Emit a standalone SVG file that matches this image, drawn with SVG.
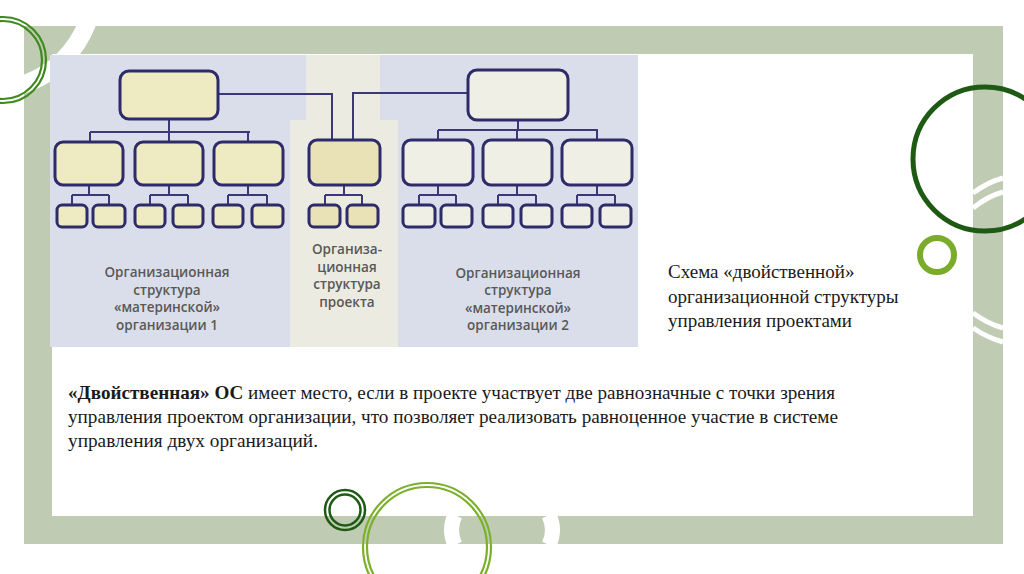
<svg xmlns="http://www.w3.org/2000/svg" width="1024" height="574" viewBox="0 0 1024 574">
<defs>
<style>
.bx{stroke:#2e2b6b;stroke-width:3}
.y{fill:#eeebc3}
.p{fill:#e8e2b6}
.w{fill:#f0efe6}
.cn{fill:none;stroke:#3a3878;stroke-width:2}
.pt{font-family:"Open Sans","DejaVu Sans",sans-serif;font-size:13.5px;font-weight:600;fill:#585858;text-anchor:middle}
.cap{font-family:"Liberation Serif",serif;font-size:19px;fill:#1a1a1a}
.body{font-family:"Liberation Serif",serif;font-size:19px;fill:#1a1a1a}
.wa{fill:none;stroke:#ffffff}
</style>
</defs>
<rect width="1024" height="574" fill="#ffffff"/>
<g id="frame">
<rect x="24" y="26" width="979" height="518" fill="#c0cbb4"/>
<rect x="52" y="54" width="921" height="462" fill="#ffffff"/>
<circle cx="-10" cy="-14" r="104" class="wa" stroke-width="18"/>
<path class="wa" stroke-width="5" d="M973,193 Q988,182 1003,178"/>
<path class="wa" stroke-width="5" d="M973,208 Q988,196 1003,192"/>
<path class="wa" stroke-width="5" d="M973,313 Q988,324 1003,328"/>
<path class="wa" stroke-width="5" d="M973,328 Q988,338 1003,342"/>
<path class="wa" stroke-width="15" d="M455,515 Q448,530 455,545"/>
<path class="wa" stroke-width="15" d="M549,515 Q556,530 549,545"/>
</g>
<g id="picture">
<rect x="50" y="55" width="588" height="292" fill="#dadeea"/>
<path d="M306,55 L380,55 L380,120 L398,120 L398,347 L290,347 L290,120 L306,120 Z" fill="#ecebe2"/>
</g>
<g id="connectors">
<path class="cn" d="M169,118 V132 M90,132 H250 M90,132 V142 M169,132 V142 M248,132 V142"/>
<path class="cn" d="M219,94 H332 V140 M468,93 H353 V140"/>
<path class="cn" d="M518,120 V130 M438,130 H598 M438,130 V140 M517,130 V140 M597,130 V140"/>
<path class="cn" d="M89,185 V195 M72,195 H109 M72,195 V205 M109,195 V205"/>
<path class="cn" d="M169,185 V195 M150,195 H188 M150,195 V205 M188,195 V205"/>
<path class="cn" d="M248,185 V195 M228,195 H267 M228,195 V205 M267,195 V205"/>
<path class="cn" d="M344,185 V195 M325,195 H362 M325,195 V205 M362,195 V205"/>
<path class="cn" d="M438,185 V195 M419,195 H456 M419,195 V205 M456,195 V205"/>
<path class="cn" d="M517,185 V195 M498,195 H536 M498,195 V205 M536,195 V205"/>
<path class="cn" d="M597,185 V195 M577,195 H615 M577,195 V205 M615,195 V205"/>
</g>
<g id="org1">
<rect class="bx y" x="120" y="71" width="98" height="48" rx="9"/>
<rect class="bx y" x="55" y="142" width="68" height="43" rx="8"/>
<rect class="bx y" x="135" y="142" width="68" height="43" rx="8"/>
<rect class="bx y" x="214" y="142" width="69" height="43" rx="8"/>
<rect class="bx y" x="57" y="205" width="30" height="22" rx="5"/>
<rect class="bx y" x="93" y="205" width="32" height="22" rx="5"/>
<rect class="bx y" x="135" y="205" width="30" height="22" rx="5"/>
<rect class="bx y" x="173" y="205" width="30" height="22" rx="5"/>
<rect class="bx y" x="213" y="205" width="30" height="22" rx="5"/>
<rect class="bx y" x="252" y="205" width="31" height="22" rx="5"/>
<text class="pt" x="167" y="277">Организационная</text>
<text class="pt" x="167" y="295">структура</text>
<text class="pt" x="167" y="312">«материнской»</text>
<text class="pt" x="167" y="330">организации 1</text>
</g>
<g id="project">
<rect class="bx p" x="309" y="140" width="71" height="45" rx="8"/>
<rect class="bx p" x="309" y="205" width="31" height="22" rx="5"/>
<rect class="bx p" x="347" y="205" width="31" height="22" rx="5"/>
<text class="pt" x="347" y="254">Организа-</text>
<text class="pt" x="347" y="272">ционная</text>
<text class="pt" x="347" y="289">структура</text>
<text class="pt" x="347" y="307">проекта</text>
</g>
<g id="org2">
<rect class="bx w" x="468" y="70" width="100" height="50" rx="9"/>
<rect class="bx w" x="403" y="140" width="70" height="45" rx="8"/>
<rect class="bx w" x="483" y="140" width="69" height="45" rx="8"/>
<rect class="bx w" x="562" y="140" width="70" height="45" rx="8"/>
<rect class="bx w" x="403" y="205" width="32" height="22" rx="5"/>
<rect class="bx w" x="441" y="205" width="31" height="22" rx="5"/>
<rect class="bx w" x="483" y="205" width="30" height="22" rx="5"/>
<rect class="bx w" x="521" y="205" width="31" height="22" rx="5"/>
<rect class="bx w" x="562" y="205" width="30" height="22" rx="5"/>
<rect class="bx w" x="600" y="205" width="31" height="22" rx="5"/>
<text class="pt" x="518" y="278">Организационная</text>
<text class="pt" x="518" y="295">структура</text>
<text class="pt" x="518" y="313">«материнской»</text>
<text class="pt" x="518" y="330">организации 2</text>
</g>
<g id="caption">
<text class="cap" x="668" y="278">Схема «двойственной»</text>
<text class="cap" x="668" y="303">организационной структуры</text>
<text class="cap" x="668" y="327">управления проектами</text>
</g>
<g id="body">
<text class="body" x="68" y="399" textLength="767" lengthAdjust="spacingAndGlyphs"><tspan font-weight="bold">«Двойственная» ОС</tspan> имеет место, если в проекте участвует две равнозначные с точки зрения</text>
<text class="body" x="68" y="423" textLength="770" lengthAdjust="spacingAndGlyphs">управления проектом организации, что позволяет реализовать равноценное участие в системе</text>
<text class="body" x="68" y="447" textLength="250" lengthAdjust="spacingAndGlyphs">управления двух организаций.</text>
</g>
<g id="circles" fill="none">
<circle cx="3" cy="60" r="43" stroke="#3f8a1e" stroke-width="2.2"/>
<circle cx="3" cy="60" r="39" stroke="#3f8a1e" stroke-width="2.2"/>
<circle cx="985" cy="159" r="72" stroke="#1f5a14" stroke-width="5"/>
<circle cx="937" cy="255" r="17" stroke="#7bab2b" stroke-width="6"/>
<circle cx="345" cy="510" r="20" stroke="#1f5a14" stroke-width="2.5"/>
<circle cx="345" cy="510" r="15.5" stroke="#1f5a14" stroke-width="2.5"/>
<circle cx="427" cy="547" r="64" stroke="#7bb02a" stroke-width="2.2"/>
<circle cx="427" cy="547" r="60" stroke="#7bb02a" stroke-width="2.2"/>
</g>
</svg>
